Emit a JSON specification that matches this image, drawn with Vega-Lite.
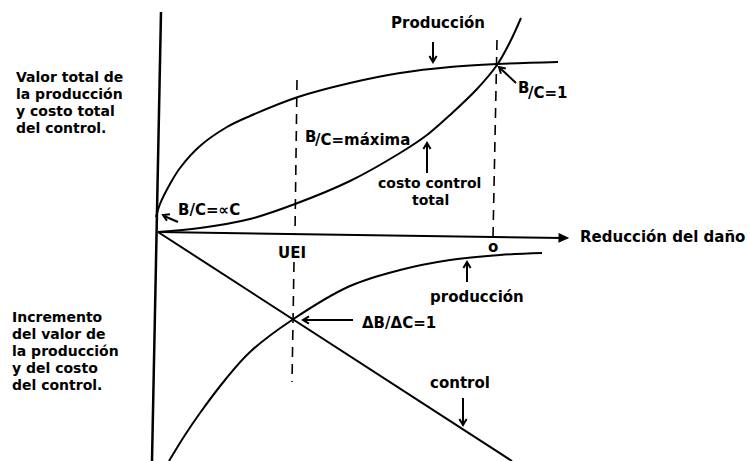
{
  "$schema": "https://vega.github.io/schema/vega-lite/v6.json",
  "width": 749,
  "height": 461,
  "autosize": {"type": "fit", "contains": "padding"},
  "padding": 0,
  "background": "white",
  "config": {"view": {"stroke": null}},
  "datasets": {
    "curves": [
      {"series": "produccion_total", "x": 156, "y": 217},
      {"series": "produccion_total", "x": 160, "y": 204},
      {"series": "produccion_total", "x": 170, "y": 184},
      {"series": "produccion_total", "x": 180, "y": 168},
      {"series": "produccion_total", "x": 200, "y": 146},
      {"series": "produccion_total", "x": 227, "y": 127},
      {"series": "produccion_total", "x": 250, "y": 116},
      {"series": "produccion_total", "x": 298, "y": 97},
      {"series": "produccion_total", "x": 350, "y": 83},
      {"series": "produccion_total", "x": 400, "y": 73},
      {"series": "produccion_total", "x": 450, "y": 67},
      {"series": "produccion_total", "x": 497, "y": 64},
      {"series": "produccion_total", "x": 558, "y": 62},
      {"series": "costo_total", "x": 158, "y": 232},
      {"series": "costo_total", "x": 200, "y": 228},
      {"series": "costo_total", "x": 250, "y": 219},
      {"series": "costo_total", "x": 295, "y": 204},
      {"series": "costo_total", "x": 350, "y": 181},
      {"series": "costo_total", "x": 400, "y": 153},
      {"series": "costo_total", "x": 427, "y": 135},
      {"series": "costo_total", "x": 450, "y": 115},
      {"series": "costo_total", "x": 477, "y": 89},
      {"series": "costo_total", "x": 497, "y": 65},
      {"series": "costo_total", "x": 510, "y": 42},
      {"series": "costo_total", "x": 521, "y": 18},
      {"series": "produccion_inc", "x": 169, "y": 461},
      {"series": "produccion_inc", "x": 185, "y": 435},
      {"series": "produccion_inc", "x": 200, "y": 413},
      {"series": "produccion_inc", "x": 225, "y": 380},
      {"series": "produccion_inc", "x": 250, "y": 352},
      {"series": "produccion_inc", "x": 292, "y": 320},
      {"series": "produccion_inc", "x": 350, "y": 286},
      {"series": "produccion_inc", "x": 400, "y": 270},
      {"series": "produccion_inc", "x": 450, "y": 260},
      {"series": "produccion_inc", "x": 500, "y": 255},
      {"series": "produccion_inc", "x": 542, "y": 253}
    ],
    "solid": [
      {"name": "eje vertical", "x": 161, "y": 12, "x2": 152, "y2": 461, "w": 2.5},
      {"name": "eje horizontal", "x": 158, "y": 232, "x2": 562, "y2": 238, "w": 2},
      {"name": "control", "x": 158, "y": 232, "x2": 512, "y2": 461, "w": 2},
      {"name": "a1", "x": 433, "y": 42, "x2": 433, "y2": 61, "w": 2},
      {"name": "a2", "x": 516, "y": 83, "x2": 500, "y2": 68, "w": 2},
      {"name": "a3", "x": 427, "y": 173, "x2": 427, "y2": 144, "w": 2},
      {"name": "a4", "x": 178, "y": 222, "x2": 164, "y2": 216, "w": 2},
      {"name": "a5", "x": 467, "y": 282, "x2": 467, "y2": 263, "w": 2},
      {"name": "a6", "x": 353, "y": 320, "x2": 304, "y2": 320, "w": 2},
      {"name": "a7", "x": 463, "y": 398, "x2": 463, "y2": 424, "w": 2}
    ],
    "dashed": [
      {"x": 297, "y": 80, "x2": 295, "y2": 234},
      {"x": 294, "y": 262, "x2": 292, "y2": 382},
      {"x": 497, "y": 40, "x2": 493, "y2": 237}
    ],
    "heads": [
      {"x": 433, "y": 62, "angle": 90},
      {"x": 499, "y": 67, "angle": 223},
      {"x": 427, "y": 143, "angle": 270},
      {"x": 163, "y": 215, "angle": 205},
      {"x": 467, "y": 262, "angle": 270},
      {"x": 303, "y": 320, "angle": 180},
      {"x": 463, "y": 425, "angle": 90}
    ],
    "axisHead": [
      {"x": 568, "y": 238, "angle": 1}
    ],
    "labels": [
      {"x": 391, "y": 23, "text": "Producción"},
      {"x": 518, "y": 88, "text": "B"},
      {"x": 528, "y": 93, "text": "/C=1"},
      {"x": 305, "y": 137, "text": "B"},
      {"x": 315, "y": 140, "text": "/C=máxima"},
      {"x": 178, "y": 210, "text": "B/C=∝C"},
      {"x": 580, "y": 237, "text": "Reducción del daño"},
      {"x": 278, "y": 253, "text": "UEI"},
      {"x": 488, "y": 247, "text": "o"},
      {"x": 430, "y": 297, "text": "producción"},
      {"x": 362, "y": 323, "text": "ΔB/ΔC=1"},
      {"x": 430, "y": 383, "text": "control"}
    ],
    "sideLabels": [
      {"x": 378, "y": 184, "text": "costo control"},
      {"x": 412, "y": 201, "text": "total"},
      {"x": 16, "y": 78, "text": "Valor total de"},
      {"x": 16, "y": 95, "text": "la producción"},
      {"x": 16, "y": 112, "text": "y costo total"},
      {"x": 16, "y": 129, "text": "del control."},
      {"x": 12, "y": 318, "text": "Incremento"},
      {"x": 12, "y": 335, "text": "del valor de"},
      {"x": 12, "y": 352, "text": "la producción"},
      {"x": 12, "y": 369, "text": "y del costo"},
      {"x": 12, "y": 386, "text": "del control."}
    ]
  },
  "encoding": {
    "x": {"field": "x", "type": "quantitative", "scale": {"domain": [0, 749], "nice": false, "zero": false}, "axis": null},
    "y": {"field": "y", "type": "quantitative", "scale": {"domain": [0, 461], "nice": false, "zero": false, "reverse": true}, "axis": null}
  },
  "layer": [
    {
      "data": {"name": "curves"},
      "mark": {"type": "line", "interpolate": "catmull-rom", "stroke": "black", "strokeWidth": 2, "clip": true},
      "encoding": {"detail": {"field": "series"}}
    },
    {
      "data": {"name": "solid"},
      "mark": {"type": "rule", "stroke": "black", "clip": true},
      "encoding": {
        "x2": {"field": "x2"},
        "y2": {"field": "y2"},
        "strokeWidth": {"field": "w", "type": "quantitative", "scale": null}
      }
    },
    {
      "data": {"name": "dashed"},
      "mark": {"type": "rule", "stroke": "black", "strokeWidth": 1.6, "strokeDash": [10, 7]},
      "encoding": {"x2": {"field": "x2"}, "y2": {"field": "y2"}}
    },
    {
      "data": {"name": "heads"},
      "mark": {"type": "point", "shape": "M-1,-0.6L0,0L-1,0.6", "filled": false, "stroke": "black", "strokeWidth": 2, "size": 144, "opacity": 1},
      "encoding": {"angle": {"field": "angle", "type": "quantitative", "scale": null}}
    },
    {
      "data": {"name": "axisHead"},
      "mark": {"type": "point", "shape": "M-1,-0.45L0,0L-1,0.45Z", "filled": true, "fill": "black", "stroke": "black", "strokeWidth": 1, "size": 324, "opacity": 1},
      "encoding": {"angle": {"field": "angle", "type": "quantitative", "scale": null}}
    },
    {
      "data": {"name": "labels"},
      "mark": {"type": "text", "align": "left", "baseline": "middle", "font": "DejaVu Sans", "fontWeight": "bold", "fontSize": 15, "fill": "black"},
      "encoding": {"text": {"field": "text"}}
    },
    {
      "data": {"name": "sideLabels"},
      "mark": {"type": "text", "align": "left", "baseline": "middle", "font": "DejaVu Sans", "fontWeight": "bold", "fontSize": 14, "fill": "black"},
      "encoding": {"text": {"field": "text"}}
    }
  ]
}
